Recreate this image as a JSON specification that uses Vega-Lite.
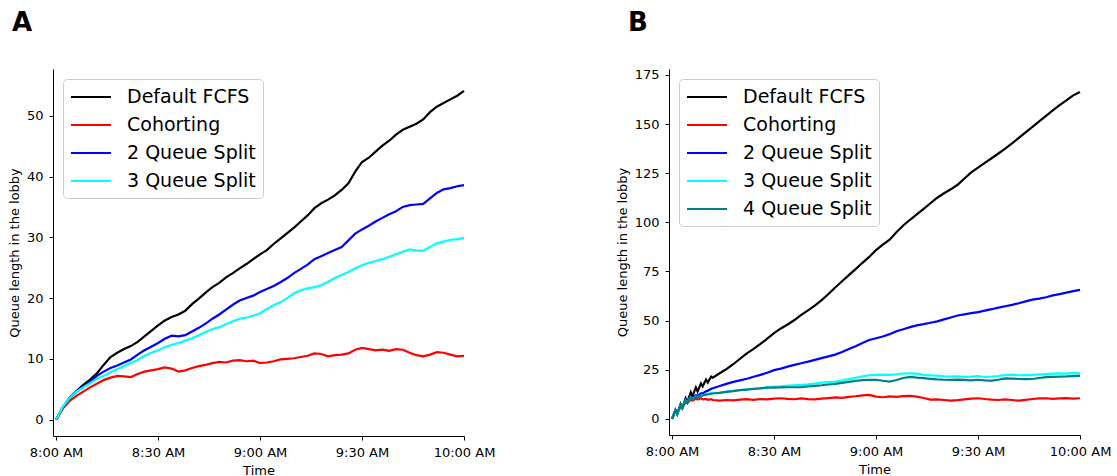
{
  "$schema": "https://vega.github.io/schema/vega-lite/v6.json",
  "padding": {"left": 8, "top": 9, "right": 5, "bottom": 0},
  "config": {
    "font": "DejaVu Sans",
    "view": {"stroke": null},
    "axis": {"grid": false, "domainColor": "#000000", "tickColor": "#000000", "labelColor": "#000000", "titleColor": "#000000", "labelFont": "DejaVu Sans", "labelFontSize": 13, "titleFont": "DejaVu Sans", "titleFontSize": 13, "titleFontWeight": "normal", "tickSize": 4, "labelPadding": 6, "titlePadding": 5, "domainWidth": 1, "tickWidth": 1, "labelFlush": false},
    "legend": {"orient": "top-left", "offset": 10, "fillColor": "#ffffff", "strokeColor": "#cccccc", "cornerRadius": 4, "padding": 7, "labelFont": "DejaVu Sans", "labelFontSize": 19, "labelColor": "#000000", "symbolType": "M-1,0L3,0", "symbolSize": 400, "symbolStrokeWidth": 2, "rowPadding": 7, "labelOffset": 35, "labelLimit": 400},
    "title": {"font": "DejaVu Sans", "fontSize": 26, "fontWeight": "bold", "anchor": "start", "frame": "group", "dx": -41, "offset": 33, "color": "#000000"},
    "concat": {"spacing": 121}
  },
  "datasets": {
    "a": [
      {"t": 0, "Default FCFS": 0, "Cohorting": 0, "2 Queue Split": 0, "3 Queue Split": 0},
      {"t": 2, "Default FCFS": 2.0, "Cohorting": 1.8, "2 Queue Split": 2.0, "3 Queue Split": 2.1},
      {"t": 4, "Default FCFS": 3.6, "Cohorting": 3.1, "2 Queue Split": 3.6, "3 Queue Split": 3.6},
      {"t": 6, "Default FCFS": 4.7, "Cohorting": 3.9, "2 Queue Split": 4.6, "3 Queue Split": 4.6},
      {"t": 8, "Default FCFS": 5.7, "Cohorting": 4.6, "2 Queue Split": 5.4, "3 Queue Split": 5.3},
      {"t": 10, "Default FCFS": 6.6, "Cohorting": 5.3, "2 Queue Split": 6.3, "3 Queue Split": 6.0},
      {"t": 12, "Default FCFS": 7.6, "Cohorting": 5.9, "2 Queue Split": 7.2, "3 Queue Split": 6.7},
      {"t": 14, "Default FCFS": 9.0, "Cohorting": 6.5, "2 Queue Split": 7.9, "3 Queue Split": 7.2},
      {"t": 16, "Default FCFS": 10.3, "Cohorting": 6.9, "2 Queue Split": 8.5, "3 Queue Split": 7.8},
      {"t": 18, "Default FCFS": 11.0, "Cohorting": 7.2, "2 Queue Split": 8.9, "3 Queue Split": 8.3},
      {"t": 20, "Default FCFS": 11.6, "Cohorting": 7.1, "2 Queue Split": 9.4, "3 Queue Split": 8.8},
      {"t": 22, "Default FCFS": 12.1, "Cohorting": 7.0, "2 Queue Split": 9.9, "3 Queue Split": 9.3},
      {"t": 24, "Default FCFS": 12.8, "Cohorting": 7.5, "2 Queue Split": 10.7, "3 Queue Split": 9.8},
      {"t": 26, "Default FCFS": 13.7, "Cohorting": 7.9, "2 Queue Split": 11.4, "3 Queue Split": 10.5},
      {"t": 28, "Default FCFS": 14.6, "Cohorting": 8.1, "2 Queue Split": 12.0, "3 Queue Split": 11.0},
      {"t": 30, "Default FCFS": 15.5, "Cohorting": 8.3, "2 Queue Split": 12.6, "3 Queue Split": 11.4},
      {"t": 32, "Default FCFS": 16.3, "Cohorting": 8.6, "2 Queue Split": 13.3, "3 Queue Split": 11.9},
      {"t": 34, "Default FCFS": 16.9, "Cohorting": 8.4, "2 Queue Split": 13.8, "3 Queue Split": 12.3},
      {"t": 36, "Default FCFS": 17.3, "Cohorting": 7.9, "2 Queue Split": 13.7, "3 Queue Split": 12.6},
      {"t": 38, "Default FCFS": 17.9, "Cohorting": 8.1, "2 Queue Split": 13.9, "3 Queue Split": 13.0},
      {"t": 40, "Default FCFS": 19.0, "Cohorting": 8.5, "2 Queue Split": 14.5, "3 Queue Split": 13.4},
      {"t": 42, "Default FCFS": 19.9, "Cohorting": 8.8, "2 Queue Split": 15.1, "3 Queue Split": 13.9},
      {"t": 44, "Default FCFS": 20.9, "Cohorting": 9.0, "2 Queue Split": 15.8, "3 Queue Split": 14.4},
      {"t": 46, "Default FCFS": 21.8, "Cohorting": 9.3, "2 Queue Split": 16.6, "3 Queue Split": 14.9},
      {"t": 48, "Default FCFS": 22.5, "Cohorting": 9.5, "2 Queue Split": 17.3, "3 Queue Split": 15.2},
      {"t": 50, "Default FCFS": 23.4, "Cohorting": 9.4, "2 Queue Split": 18.1, "3 Queue Split": 15.7},
      {"t": 52, "Default FCFS": 24.1, "Cohorting": 9.7, "2 Queue Split": 18.9, "3 Queue Split": 16.2},
      {"t": 54, "Default FCFS": 24.9, "Cohorting": 9.8, "2 Queue Split": 19.6, "3 Queue Split": 16.6},
      {"t": 56, "Default FCFS": 25.6, "Cohorting": 9.6, "2 Queue Split": 20.0, "3 Queue Split": 16.8},
      {"t": 58, "Default FCFS": 26.4, "Cohorting": 9.7, "2 Queue Split": 20.4, "3 Queue Split": 17.1},
      {"t": 60, "Default FCFS": 27.2, "Cohorting": 9.3, "2 Queue Split": 21.0, "3 Queue Split": 17.5},
      {"t": 62, "Default FCFS": 27.9, "Cohorting": 9.4, "2 Queue Split": 21.5, "3 Queue Split": 18.2},
      {"t": 64, "Default FCFS": 28.9, "Cohorting": 9.6, "2 Queue Split": 22.0, "3 Queue Split": 18.8},
      {"t": 66, "Default FCFS": 29.8, "Cohorting": 9.9, "2 Queue Split": 22.6, "3 Queue Split": 19.3},
      {"t": 68, "Default FCFS": 30.7, "Cohorting": 10.0, "2 Queue Split": 23.3, "3 Queue Split": 20.0},
      {"t": 70, "Default FCFS": 31.6, "Cohorting": 10.1, "2 Queue Split": 24.1, "3 Queue Split": 20.8},
      {"t": 72, "Default FCFS": 32.6, "Cohorting": 10.3, "2 Queue Split": 24.8, "3 Queue Split": 21.3},
      {"t": 74, "Default FCFS": 33.6, "Cohorting": 10.5, "2 Queue Split": 25.5, "3 Queue Split": 21.6},
      {"t": 76, "Default FCFS": 34.8, "Cohorting": 10.9, "2 Queue Split": 26.4, "3 Queue Split": 21.8},
      {"t": 78, "Default FCFS": 35.6, "Cohorting": 10.8, "2 Queue Split": 26.9, "3 Queue Split": 22.1},
      {"t": 80, "Default FCFS": 36.2, "Cohorting": 10.4, "2 Queue Split": 27.4, "3 Queue Split": 22.7},
      {"t": 82, "Default FCFS": 36.9, "Cohorting": 10.6, "2 Queue Split": 27.9, "3 Queue Split": 23.3},
      {"t": 84, "Default FCFS": 37.8, "Cohorting": 10.7, "2 Queue Split": 28.4, "3 Queue Split": 23.8},
      {"t": 86, "Default FCFS": 38.9, "Cohorting": 10.9, "2 Queue Split": 29.5, "3 Queue Split": 24.3},
      {"t": 88, "Default FCFS": 40.8, "Cohorting": 11.5, "2 Queue Split": 30.6, "3 Queue Split": 24.9},
      {"t": 90, "Default FCFS": 42.4, "Cohorting": 11.8, "2 Queue Split": 31.3, "3 Queue Split": 25.4},
      {"t": 92, "Default FCFS": 43.1, "Cohorting": 11.6, "2 Queue Split": 31.9, "3 Queue Split": 25.8},
      {"t": 94, "Default FCFS": 44.1, "Cohorting": 11.4, "2 Queue Split": 32.6, "3 Queue Split": 26.1},
      {"t": 96, "Default FCFS": 45.1, "Cohorting": 11.5, "2 Queue Split": 33.2, "3 Queue Split": 26.4},
      {"t": 98, "Default FCFS": 45.9, "Cohorting": 11.3, "2 Queue Split": 33.8, "3 Queue Split": 26.8},
      {"t": 100, "Default FCFS": 46.9, "Cohorting": 11.6, "2 Queue Split": 34.3, "3 Queue Split": 27.2},
      {"t": 102, "Default FCFS": 47.7, "Cohorting": 11.5, "2 Queue Split": 35.0, "3 Queue Split": 27.6},
      {"t": 104, "Default FCFS": 48.2, "Cohorting": 11.0, "2 Queue Split": 35.3, "3 Queue Split": 28.0},
      {"t": 106, "Default FCFS": 48.7, "Cohorting": 10.6, "2 Queue Split": 35.4, "3 Queue Split": 27.8},
      {"t": 108, "Default FCFS": 49.4, "Cohorting": 10.4, "2 Queue Split": 35.5, "3 Queue Split": 27.8},
      {"t": 110, "Default FCFS": 50.6, "Cohorting": 10.7, "2 Queue Split": 36.4, "3 Queue Split": 28.4},
      {"t": 112, "Default FCFS": 51.5, "Cohorting": 11.1, "2 Queue Split": 37.3, "3 Queue Split": 29.0},
      {"t": 114, "Default FCFS": 52.1, "Cohorting": 11.0, "2 Queue Split": 37.9, "3 Queue Split": 29.3},
      {"t": 116, "Default FCFS": 52.7, "Cohorting": 10.7, "2 Queue Split": 38.1, "3 Queue Split": 29.6},
      {"t": 118, "Default FCFS": 53.3, "Cohorting": 10.4, "2 Queue Split": 38.4, "3 Queue Split": 29.7},
      {"t": 120, "Default FCFS": 54.1, "Cohorting": 10.5, "2 Queue Split": 38.6, "3 Queue Split": 29.9}
    ],
    "b": [
      {"t": 0, "Default FCFS": 0, "Cohorting": 0, "2 Queue Split": 0, "3 Queue Split": 0, "4 Queue Split": 0},
      {"t": 1, "Default FCFS": 4.5, "Cohorting": 4, "2 Queue Split": 4.5, "3 Queue Split": 4.5, "4 Queue Split": 4.5},
      {"t": 1.5, "Default FCFS": 2.5, "Cohorting": 2.5, "2 Queue Split": 2.5, "3 Queue Split": 2.5, "4 Queue Split": 2.5},
      {"t": 2.5, "Default FCFS": 7.5, "Cohorting": 6.5, "2 Queue Split": 7, "3 Queue Split": 7, "4 Queue Split": 7},
      {"t": 3, "Default FCFS": 5.5, "Cohorting": 5.5, "2 Queue Split": 5.5, "3 Queue Split": 5.5, "4 Queue Split": 5.5},
      {"t": 4, "Default FCFS": 10.5, "Cohorting": 8.5, "2 Queue Split": 10, "3 Queue Split": 9.5, "4 Queue Split": 9.5},
      {"t": 4.5, "Default FCFS": 8.5, "Cohorting": 8, "2 Queue Split": 8.5, "3 Queue Split": 8.5, "4 Queue Split": 8.5},
      {"t": 5.5, "Default FCFS": 13.5, "Cohorting": 9.8, "2 Queue Split": 11.5, "3 Queue Split": 11, "4 Queue Split": 11},
      {"t": 6, "Default FCFS": 11.5, "Cohorting": 9.2, "2 Queue Split": 10.5, "3 Queue Split": 10, "4 Queue Split": 10},
      {"t": 7, "Default FCFS": 16, "Cohorting": 10.3, "2 Queue Split": 12, "3 Queue Split": 11.5, "4 Queue Split": 11.3},
      {"t": 7.5, "Default FCFS": 14, "Cohorting": 9.8, "2 Queue Split": 11.8, "3 Queue Split": 11, "4 Queue Split": 10.8},
      {"t": 8.5, "Default FCFS": 18, "Cohorting": 10.5, "2 Queue Split": 13, "3 Queue Split": 12, "4 Queue Split": 11.8},
      {"t": 9, "Default FCFS": 16.5, "Cohorting": 9.9, "2 Queue Split": 13, "3 Queue Split": 12, "4 Queue Split": 11.9},
      {"t": 10, "Default FCFS": 20, "Cohorting": 10.2, "2 Queue Split": 14, "3 Queue Split": 12.5, "4 Queue Split": 12.3},
      {"t": 10.5, "Default FCFS": 18.5, "Cohorting": 9.7, "2 Queue Split": 14.3, "3 Queue Split": 12.6, "4 Queue Split": 12.4},
      {"t": 11.5, "Default FCFS": 21.5, "Cohorting": 10.0, "2 Queue Split": 15.3, "3 Queue Split": 13.1, "4 Queue Split": 12.8},
      {"t": 12, "Default FCFS": 21, "Cohorting": 9.6, "2 Queue Split": 15.6, "3 Queue Split": 13.2, "4 Queue Split": 12.9},
      {"t": 14, "Default FCFS": 23.2, "Cohorting": 9.3, "2 Queue Split": 16.7, "3 Queue Split": 13.3, "4 Queue Split": 13.2},
      {"t": 16, "Default FCFS": 25.3, "Cohorting": 9.6, "2 Queue Split": 17.8, "3 Queue Split": 13.9, "4 Queue Split": 13.7},
      {"t": 18, "Default FCFS": 27.8, "Cohorting": 9.4, "2 Queue Split": 18.8, "3 Queue Split": 14.3, "4 Queue Split": 14.1},
      {"t": 20, "Default FCFS": 30.6, "Cohorting": 9.8, "2 Queue Split": 19.6, "3 Queue Split": 14.7, "4 Queue Split": 14.6},
      {"t": 22, "Default FCFS": 33.3, "Cohorting": 10.0, "2 Queue Split": 20.4, "3 Queue Split": 15.0, "4 Queue Split": 14.9},
      {"t": 24, "Default FCFS": 35.6, "Cohorting": 9.7, "2 Queue Split": 21.4, "3 Queue Split": 15.4, "4 Queue Split": 15.2},
      {"t": 26, "Default FCFS": 38.1, "Cohorting": 10.1, "2 Queue Split": 22.4, "3 Queue Split": 15.7, "4 Queue Split": 15.5},
      {"t": 28, "Default FCFS": 40.8, "Cohorting": 9.9, "2 Queue Split": 23.5, "3 Queue Split": 16.1, "4 Queue Split": 15.9},
      {"t": 30, "Default FCFS": 43.6, "Cohorting": 10.3, "2 Queue Split": 24.8, "3 Queue Split": 16.4, "4 Queue Split": 15.9},
      {"t": 32, "Default FCFS": 46.0, "Cohorting": 10.5, "2 Queue Split": 25.6, "3 Queue Split": 16.6, "4 Queue Split": 16.0},
      {"t": 34, "Default FCFS": 48.0, "Cohorting": 10.2, "2 Queue Split": 26.6, "3 Queue Split": 16.9, "4 Queue Split": 16.1},
      {"t": 36, "Default FCFS": 50.3, "Cohorting": 10.0, "2 Queue Split": 27.5, "3 Queue Split": 17.1, "4 Queue Split": 16.1},
      {"t": 38, "Default FCFS": 52.9, "Cohorting": 10.4, "2 Queue Split": 28.3, "3 Queue Split": 17.3, "4 Queue Split": 16.2},
      {"t": 40, "Default FCFS": 55.2, "Cohorting": 10.1, "2 Queue Split": 29.1, "3 Queue Split": 17.6, "4 Queue Split": 16.5},
      {"t": 42, "Default FCFS": 57.6, "Cohorting": 9.9, "2 Queue Split": 30.0, "3 Queue Split": 18.0, "4 Queue Split": 16.8},
      {"t": 44, "Default FCFS": 60.4, "Cohorting": 10.3, "2 Queue Split": 30.9, "3 Queue Split": 18.4, "4 Queue Split": 17.1},
      {"t": 46, "Default FCFS": 63.5, "Cohorting": 10.6, "2 Queue Split": 31.8, "3 Queue Split": 18.7, "4 Queue Split": 17.5},
      {"t": 48, "Default FCFS": 66.8, "Cohorting": 10.9, "2 Queue Split": 32.7, "3 Queue Split": 19.0, "4 Queue Split": 17.8},
      {"t": 50, "Default FCFS": 70.0, "Cohorting": 10.7, "2 Queue Split": 34.0, "3 Queue Split": 19.5, "4 Queue Split": 18.3},
      {"t": 52, "Default FCFS": 73.1, "Cohorting": 11.2, "2 Queue Split": 35.5, "3 Queue Split": 20.2, "4 Queue Split": 18.8},
      {"t": 54, "Default FCFS": 76.2, "Cohorting": 11.5, "2 Queue Split": 37.0, "3 Queue Split": 20.9, "4 Queue Split": 19.3},
      {"t": 56, "Default FCFS": 79.4, "Cohorting": 12.0, "2 Queue Split": 38.6, "3 Queue Split": 21.6, "4 Queue Split": 19.7},
      {"t": 58, "Default FCFS": 82.4, "Cohorting": 12.2, "2 Queue Split": 40.1, "3 Queue Split": 22.2, "4 Queue Split": 19.9},
      {"t": 60, "Default FCFS": 85.9, "Cohorting": 11.3, "2 Queue Split": 41.0, "3 Queue Split": 22.4, "4 Queue Split": 19.8},
      {"t": 62, "Default FCFS": 88.6, "Cohorting": 11.0, "2 Queue Split": 41.9, "3 Queue Split": 22.5, "4 Queue Split": 19.4},
      {"t": 64, "Default FCFS": 91.2, "Cohorting": 11.4, "2 Queue Split": 43.1, "3 Queue Split": 22.4, "4 Queue Split": 19.0},
      {"t": 66, "Default FCFS": 95.0, "Cohorting": 11.2, "2 Queue Split": 44.6, "3 Queue Split": 22.7, "4 Queue Split": 19.8},
      {"t": 68, "Default FCFS": 98.4, "Cohorting": 11.6, "2 Queue Split": 45.6, "3 Queue Split": 23.1, "4 Queue Split": 20.8},
      {"t": 70, "Default FCFS": 101.3, "Cohorting": 11.7, "2 Queue Split": 46.7, "3 Queue Split": 23.2, "4 Queue Split": 21.4},
      {"t": 72, "Default FCFS": 104.0, "Cohorting": 11.3, "2 Queue Split": 47.6, "3 Queue Split": 23.0, "4 Queue Split": 21.0},
      {"t": 74, "Default FCFS": 106.8, "Cohorting": 10.6, "2 Queue Split": 48.2, "3 Queue Split": 22.4, "4 Queue Split": 20.7},
      {"t": 76, "Default FCFS": 109.7, "Cohorting": 9.8, "2 Queue Split": 48.9, "3 Queue Split": 22.1, "4 Queue Split": 20.4},
      {"t": 78, "Default FCFS": 112.5, "Cohorting": 9.9, "2 Queue Split": 49.6, "3 Queue Split": 22.0, "4 Queue Split": 20.1},
      {"t": 80, "Default FCFS": 114.8, "Cohorting": 9.6, "2 Queue Split": 50.6, "3 Queue Split": 21.7, "4 Queue Split": 19.9},
      {"t": 82, "Default FCFS": 116.8, "Cohorting": 9.3, "2 Queue Split": 51.6, "3 Queue Split": 21.5, "4 Queue Split": 19.8},
      {"t": 84, "Default FCFS": 119.1, "Cohorting": 9.5, "2 Queue Split": 52.6, "3 Queue Split": 21.6, "4 Queue Split": 20.0},
      {"t": 86, "Default FCFS": 122.3, "Cohorting": 9.9, "2 Queue Split": 53.2, "3 Queue Split": 21.4, "4 Queue Split": 19.8},
      {"t": 88, "Default FCFS": 125.4, "Cohorting": 10.3, "2 Queue Split": 53.8, "3 Queue Split": 21.5, "4 Queue Split": 19.6},
      {"t": 90, "Default FCFS": 127.8, "Cohorting": 10.5, "2 Queue Split": 54.3, "3 Queue Split": 21.7, "4 Queue Split": 19.9},
      {"t": 92, "Default FCFS": 130.2, "Cohorting": 10.1, "2 Queue Split": 55.1, "3 Queue Split": 21.3, "4 Queue Split": 19.6},
      {"t": 94, "Default FCFS": 132.6, "Cohorting": 9.8, "2 Queue Split": 55.8, "3 Queue Split": 21.5, "4 Queue Split": 19.5},
      {"t": 96, "Default FCFS": 135.0, "Cohorting": 9.6, "2 Queue Split": 56.6, "3 Queue Split": 21.8, "4 Queue Split": 19.9},
      {"t": 98, "Default FCFS": 137.5, "Cohorting": 9.9, "2 Queue Split": 57.3, "3 Queue Split": 22.3, "4 Queue Split": 20.6},
      {"t": 100, "Default FCFS": 140.1, "Cohorting": 9.6, "2 Queue Split": 58.0, "3 Queue Split": 22.5, "4 Queue Split": 20.5},
      {"t": 102, "Default FCFS": 143.0, "Cohorting": 9.3, "2 Queue Split": 58.8, "3 Queue Split": 22.2, "4 Queue Split": 20.3},
      {"t": 104, "Default FCFS": 145.8, "Cohorting": 9.7, "2 Queue Split": 59.8, "3 Queue Split": 22.3, "4 Queue Split": 20.2},
      {"t": 106, "Default FCFS": 148.6, "Cohorting": 10.1, "2 Queue Split": 60.7, "3 Queue Split": 22.4, "4 Queue Split": 20.3},
      {"t": 108, "Default FCFS": 151.3, "Cohorting": 10.4, "2 Queue Split": 61.2, "3 Queue Split": 22.6, "4 Queue Split": 20.8},
      {"t": 110, "Default FCFS": 154.1, "Cohorting": 10.5, "2 Queue Split": 61.9, "3 Queue Split": 22.8, "4 Queue Split": 21.2},
      {"t": 112, "Default FCFS": 156.9, "Cohorting": 10.2, "2 Queue Split": 62.8, "3 Queue Split": 23.0, "4 Queue Split": 21.4},
      {"t": 114, "Default FCFS": 159.6, "Cohorting": 10.4, "2 Queue Split": 63.5, "3 Queue Split": 23.2, "4 Queue Split": 21.5},
      {"t": 116, "Default FCFS": 162.0, "Cohorting": 10.6, "2 Queue Split": 64.2, "3 Queue Split": 23.0, "4 Queue Split": 21.6},
      {"t": 118, "Default FCFS": 164.6, "Cohorting": 10.3, "2 Queue Split": 65.0, "3 Queue Split": 23.3, "4 Queue Split": 21.8},
      {"t": 120, "Default FCFS": 166.3, "Cohorting": 10.5, "2 Queue Split": 65.6, "3 Queue Split": 23.2, "4 Queue Split": 21.9}
    ]
  },
  "hconcat": [
    {
      "title": "A",
      "width": 411,
      "height": 367,
      "data": {"name": "a"},
      "transform": [{"fold": ["Default FCFS", "Cohorting", "2 Queue Split", "3 Queue Split"], "as": ["series", "v"]}],
      "mark": {"type": "line", "strokeWidth": 2.2},
      "encoding": {
        "x": {"field": "t", "type": "quantitative", "title": "Time", "scale": {"domain": [-0.9, 120], "nice": false, "zero": false}, "axis": {"values": [0, 30, 60, 90, 120], "labelExpr": "['8:00 AM','8:30 AM','9:00 AM','9:30 AM','10:00 AM'][datum.value / 30]"}},
        "y": {"field": "v", "type": "quantitative", "title": "Queue length in the lobby", "scale": {"domain": [-2.7, 57.7], "nice": false, "zero": false}, "axis": {"values": [0, 10, 20, 30, 40, 50]}},
        "color": {"field": "series", "type": "nominal", "scale": {"domain": ["Default FCFS", "Cohorting", "2 Queue Split", "3 Queue Split"], "range": ["#000000", "#ff0000", "#0000ff", "#00ffff"]}, "legend": {"title": null}}
      }
    },
    {
      "title": "B",
      "width": 411,
      "height": 366,
      "data": {"name": "b"},
      "transform": [{"fold": ["Default FCFS", "Cohorting", "2 Queue Split", "3 Queue Split", "4 Queue Split"], "as": ["series", "v"]}],
      "mark": {"type": "line", "strokeWidth": 2.2},
      "encoding": {
        "x": {"field": "t", "type": "quantitative", "title": "Time", "scale": {"domain": [-0.9, 120], "nice": false, "zero": false}, "axis": {"values": [0, 30, 60, 90, 120], "labelExpr": "['8:00 AM','8:30 AM','9:00 AM','9:30 AM','10:00 AM'][datum.value / 30]"}},
        "y": {"field": "v", "type": "quantitative", "title": "Queue length in the lobby", "scale": {"domain": [-8.2, 178], "nice": false, "zero": false}, "axis": {"values": [0, 25, 50, 75, 100, 125, 150, 175]}},
        "color": {"field": "series", "type": "nominal", "scale": {"domain": ["Default FCFS", "Cohorting", "2 Queue Split", "3 Queue Split", "4 Queue Split"], "range": ["#000000", "#ff0000", "#0000ff", "#00ffff", "#008080"]}, "legend": {"title": null}}
      }
    }
  ],
  "resolve": {"scale": {"color": "independent", "x": "independent", "y": "independent"}, "legend": {"color": "independent"}}
}
